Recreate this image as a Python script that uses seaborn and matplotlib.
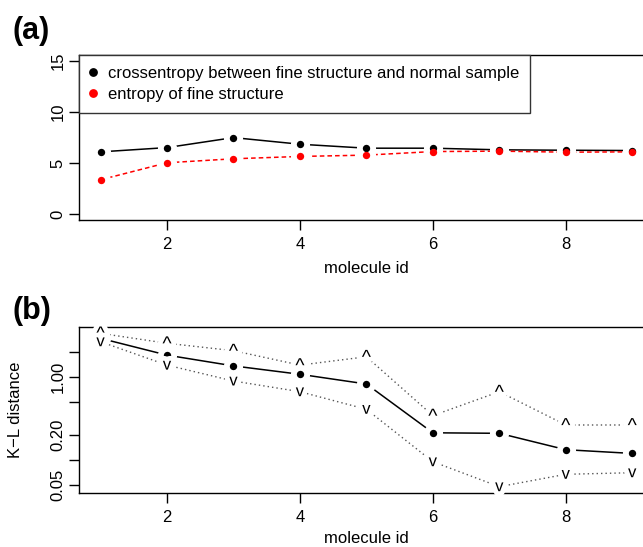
import numpy as np
import pandas as pd
import matplotlib
matplotlib.use("Agg")
import matplotlib.pyplot as plt
import matplotlib.patheffects as pe
from matplotlib.lines import Line2D
import seaborn as sns

# molecule ids
molecule_id = [1, 2, 3, 4, 5, 6, 7, 8, 9]

# panel (a): entropies
crossentropy = [6.09, 6.51, 7.49, 6.84, 6.45, 6.45, 6.29, 6.25, 6.22]
fine_entropy = [3.35, 5.02, 5.41, 5.64, 5.77, 6.12, 6.16, 6.06, 6.09]

# panel (b): K-L distance with upper / lower bounds
kl_distance = [2.90, 1.82, 1.35, 1.07, 0.817, 0.211, 0.208, 0.132, 0.119]
kl_upper = [3.33, 2.53, 2.06, 1.38, 1.74, 0.340, 0.660, 0.262, 0.262]
kl_lower = [2.64, 1.38, 0.888, 0.660, 0.405, 0.0946, 0.0473, 0.0667, 0.0697]

legend_labels = ["crossentropy between fine structure and normal sample",
                 "entropy of fine structure"]
x_ticks = [2, 4, 6, 8]
a_yticks = [0, 5, 10, 15]
b_yticks = [0.05, 0.1, 0.2, 0.5, 1, 2]
b_yticklabels = ["0.05", "", "0.20", "", "1.00", ""]

sns.set_theme(style="ticks", rc={
    "text.color": "black", "axes.labelcolor": "black",
    "xtick.color": "black", "ytick.color": "black",
    "axes.edgecolor": "black", "axes.linewidth": 1.0,
})
plt.rcParams["font.family"] = ["Liberation Sans", "DejaVu Sans"]

FS = 12
W, H = 643, 547
fig = plt.figure(figsize=(W / 100, H / 100), dpi=100)

def frac(left, top, right, bottom):
    return [left / W, 1 - bottom / H, (right - left) / W, (bottom - top) / H]

ax_a = fig.add_axes(frac(79.3, 55, 653.5, 220))
ax_b = fig.add_axes(frac(79.3, 327.3, 653.5, 493))

df_a = pd.DataFrame({"id": molecule_id, "cross": crossentropy, "ent": fine_entropy})
df_b = pd.DataFrame({"id": molecule_id, "kl": kl_distance,
                     "hi": kl_upper, "lo": kl_lower})

DOT = 28      # point area
GAP = 190     # white clearance behind each point

# ---- panel (a): lines, then white gaps around points, then points
sns.lineplot(data=df_a, x="id", y="cross", ax=ax_a, color="black", lw=1.1)
sns.lineplot(data=df_a, x="id", y="ent", ax=ax_a, color="red", lw=1.1,
             linestyle=(0, (3, 2)))
for col in ("cross", "ent"):
    sns.scatterplot(data=df_a, x="id", y=col, ax=ax_a, color="white", s=GAP,
                    linewidth=0, zorder=3)
sns.scatterplot(data=df_a, x="id", y="cross", ax=ax_a, color="black", s=DOT,
                linewidth=0, zorder=4)
sns.scatterplot(data=df_a, x="id", y="ent", ax=ax_a, color="red", s=DOT,
                linewidth=0, zorder=5)
ax_a.set_xlim(0.68, 9.32)
ax_a.set_ylim(-0.6, 15.6)
ax_a.set_yticks(a_yticks)
ax_a.set_yticklabels([str(v) for v in a_yticks])
ax_a.set_ylabel("")

handles = [Line2D([], [], marker="o", ls="none", color=c, markersize=5.3)
           for c in ["black", "red"]]
leg = ax_a.legend(handles, legend_labels, loc="upper left",
                  bbox_to_anchor=(0, 1), borderaxespad=0, fancybox=False,
                  frameon=True, edgecolor="#333333", fontsize=FS,
                  handlelength=0.3, handletextpad=0.75, borderpad=0.66,
                  labelspacing=0.36)
leg.get_frame().set_linewidth(1.0)
leg.get_frame().set_alpha(1)
leg.set_zorder(10)

# ---- panel (b)
sns.lineplot(data=df_b, x="id", y="kl", ax=ax_b, color="black", lw=1.1)
sns.lineplot(data=df_b, x="id", y="hi", ax=ax_b, color="#555555", lw=1.0,
             linestyle=(0, (1, 2.2)))
sns.lineplot(data=df_b, x="id", y="lo", ax=ax_b, color="#555555", lw=1.0,
             linestyle=(0, (1, 2.2)))
sns.scatterplot(data=df_b, x="id", y="kl", ax=ax_b, color="white", s=GAP,
                linewidth=0, zorder=3)
sns.scatterplot(data=df_b, x="id", y="kl", ax=ax_b, color="black", s=DOT,
                linewidth=0, zorder=4)
halo = [pe.withStroke(linewidth=7, foreground="white")]
for xi, hi, lo in zip(molecule_id, kl_upper, kl_lower):
    ax_b.text(xi, hi, "^", ha="center", va="center_baseline", fontsize=14,
              path_effects=halo, zorder=5)
    ax_b.text(xi, lo, "v", ha="center", va="center", fontsize=12,
              path_effects=halo, zorder=5)
ax_b.set_yscale("log")
ax_b.set_xlim(0.68, 9.32)
ax_b.set_ylim(0.0397, 3.94)
ax_b.set_yticks(b_yticks)
ax_b.set_yticklabels(b_yticklabels)
ax_b.yaxis.set_minor_locator(matplotlib.ticker.NullLocator())
ax_b.set_ylabel("K\u2212L distance", fontsize=FS)
ax_b.yaxis.set_label_coords(-0.098, 0.5)

for ax, lpad in ((ax_a, 6.5), (ax_b, 4.5)):
    ax.set_xticks(x_ticks)
    ax.set_xticklabels([str(v) for v in x_ticks])
    ax.set_xlabel("molecule id", fontsize=FS, labelpad=lpad)
    ax.tick_params(axis="both", direction="out", length=7, width=1.0,
                   labelsize=FS, color="black")
    ax.tick_params(axis="x", pad=5)
    ax.tick_params(axis="y", pad=3)
    for lab in ax.get_yticklabels():
        lab.set_rotation(90)
        lab.set_va("center")
    for sp in ax.spines.values():
        sp.set_visible(True)
        sp.set_color("black")
        sp.set_linewidth(1.0)
    ax.set_facecolor("white")

fig.text(13 / W, 1 - 31 / H, "(a)", fontsize=22, fontweight="bold",
         ha="left", va="center")
fig.text(13 / W, 1 - 311 / H, "(b)", fontsize=22, fontweight="bold",
         ha="left", va="center")

fig.savefig("out.png", dpi=100, facecolor="white")
